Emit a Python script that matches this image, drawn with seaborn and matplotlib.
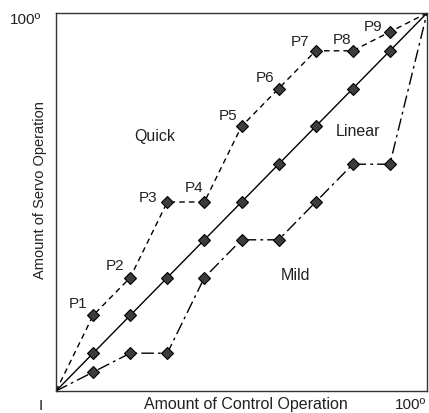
import matplotlib
matplotlib.use("Agg")
import matplotlib.pyplot as plt
import seaborn as sns

# Control operation (%) and the servo response of the three curves
control = [0, 10, 20, 30, 40, 50, 60, 70, 80, 90, 100]
quick = [0, 20, 30, 50, 50, 70, 80, 90, 90, 95, 100]
linear = [0, 10, 20, 30, 40, 50, 60, 70, 80, 90, 100]
mild = [0, 5, 10, 10, 30, 40, 40, 50, 60, 60, 100]
point_labels = ["P1", "P2", "P3", "P4", "P5", "P6", "P7", "P8", "P9"]

sns.set_theme(style="white")
plt.rcParams["font.family"] = ["Liberation Sans", "DejaVu Sans"]

W, H = 429, 414
fig = plt.figure(figsize=(W / 100, H / 100), dpi=100)
ax = fig.add_axes([56 / W, 22 / H, 371 / W, 378 / H])

marker_kw = dict(marker="D", markersize=6.5, markerfacecolor="#3c3c3c",
                 markeredgecolor="black", markeredgewidth=0.8, color="black")

sns.lineplot(x=control, y=quick, ax=ax, color="black", lw=1.0,
             linestyle=(0, (4, 3)), estimator=None, sort=False)
sns.lineplot(x=control, y=linear, ax=ax, color="black", lw=1.0,
             estimator=None, sort=False)
sns.lineplot(x=control, y=mild, ax=ax, color="black", lw=1.0,
             linestyle=(0, (9, 3, 2, 3)), estimator=None, sort=False)
# the end points carry no marker
inner = slice(1, -1)
for series in (quick, linear, mild):
    ax.plot(control[inner], series[inner], linestyle="none", **marker_kw)

# P labels up and to the left of the quick-curve points (offsets in pixels)
offsets = [(-15.5, 12), (-15, 13), (-19.5, 5), (-10.5, 14.5), (-13.5, 11),
           (-14, 12), (-16, 10), (-11, 12), (-17, 6)]
txt = "#222222"
for lab, x, y, (dx, dy) in zip(point_labels, control[inner], quick[inner], offsets):
    ax.annotate(lab, (x, y), xytext=(dx * 0.72, dy * 0.72), textcoords="offset points",
                fontsize=11, color=txt, ha="center", va="center")


def fig_text(px, py, s, **kw):
    fig.text(px / W, 1 - py / H, s, color=txt, ha="center", va="center", **kw)


fig_text(155, 136, "Quick", fontsize=11.5)
fig_text(358, 132, "Linear", fontsize=11.5)
fig_text(295, 276, "Mild", fontsize=11.5)

ax.set_xlim(0, 100)
ax.set_ylim(0, 100)
ax.set_xticks([])
ax.set_yticks([])
for sp in ax.spines.values():
    sp.set_color("#333333")
    sp.set_linewidth(1.0)

fig_text(246, 405, "Amount of Control Operation", fontsize=11.5)
fig_text(40, 190, "Amount of Servo Operation", fontsize=10.5, rotation=90)
fig_text(25.5, 20, "100º", fontsize=11)
fig_text(410, 405, "100º", fontsize=11)
fig_text(41, 406, "I", fontsize=11)

fig.savefig("out.png", dpi=100)
